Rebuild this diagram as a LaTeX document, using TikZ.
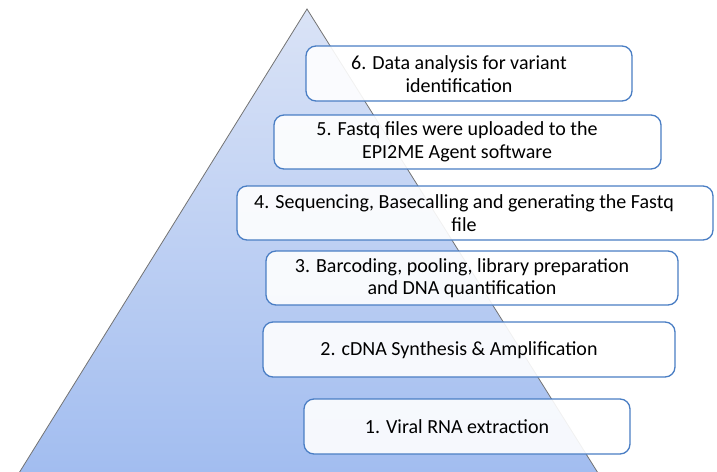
\documentclass[tikz,border=0pt]{standalone}
\usepackage{fontspec}
\setmainfont{Carlito}
\begin{document}
\begin{tikzpicture}[x=1pt,y=-1pt,
  stagebox/.style={draw=boxblue,line width=1.3pt,rounded corners=10pt,fill=white,fill opacity=0.9,text opacity=1},
  stagetext/.style={font=\fontsize{20}{22.5}\selectfont,align=center,text=black}]
\definecolor{boxblue}{HTML}{4A7EC4}
\definecolor{pyrtop}{HTML}{DAE3F6}
\definecolor{pyrbot}{HTML}{A2BDF0}
\useasboundingbox (0,0) rectangle (717,471);
% pyramid
\begin{scope}
\clip (0,0) rectangle (717,471);
\shade[top color=pyrtop,bottom color=pyrbot,draw=gray!90!black,line width=0.8pt]
  (307,9) -- (598,473) -- (19,473) -- cycle;
\end{scope}
% stage boxes
\draw[stagebox] (306,46) rectangle (632,101);
\draw[stagebox] (274,115) rectangle (661,169);
\draw[stagebox] (237,186) rectangle (713,240);
\draw[stagebox] (266,251) rectangle (678,305);
\draw[stagebox] (263,322) rectangle (675,377);
\draw[stagebox] (304,399) rectangle (630,454);
% labels
\node[stagetext] (s6) at (459,74) {6. Data analysis for variant\\identification};
\node[stagetext] (s5) at (457,142) {5. Fastq files were uploaded to the\\EPI2ME Agent software};
\node[stagetext] (s4) at (464,213) {4. Sequencing, Basecalling and generating the Fastq\\file};
\node[stagetext] (s3) at (462,278) {3. Barcoding, pooling, library preparation\\and DNA quantification};
\node[stagetext] (s2) at (459,350) {2. cDNA Synthesis \& Amplification};
\node[stagetext] (s1) at (457,427) {1. Viral RNA extraction};
\end{tikzpicture}
\end{document}
